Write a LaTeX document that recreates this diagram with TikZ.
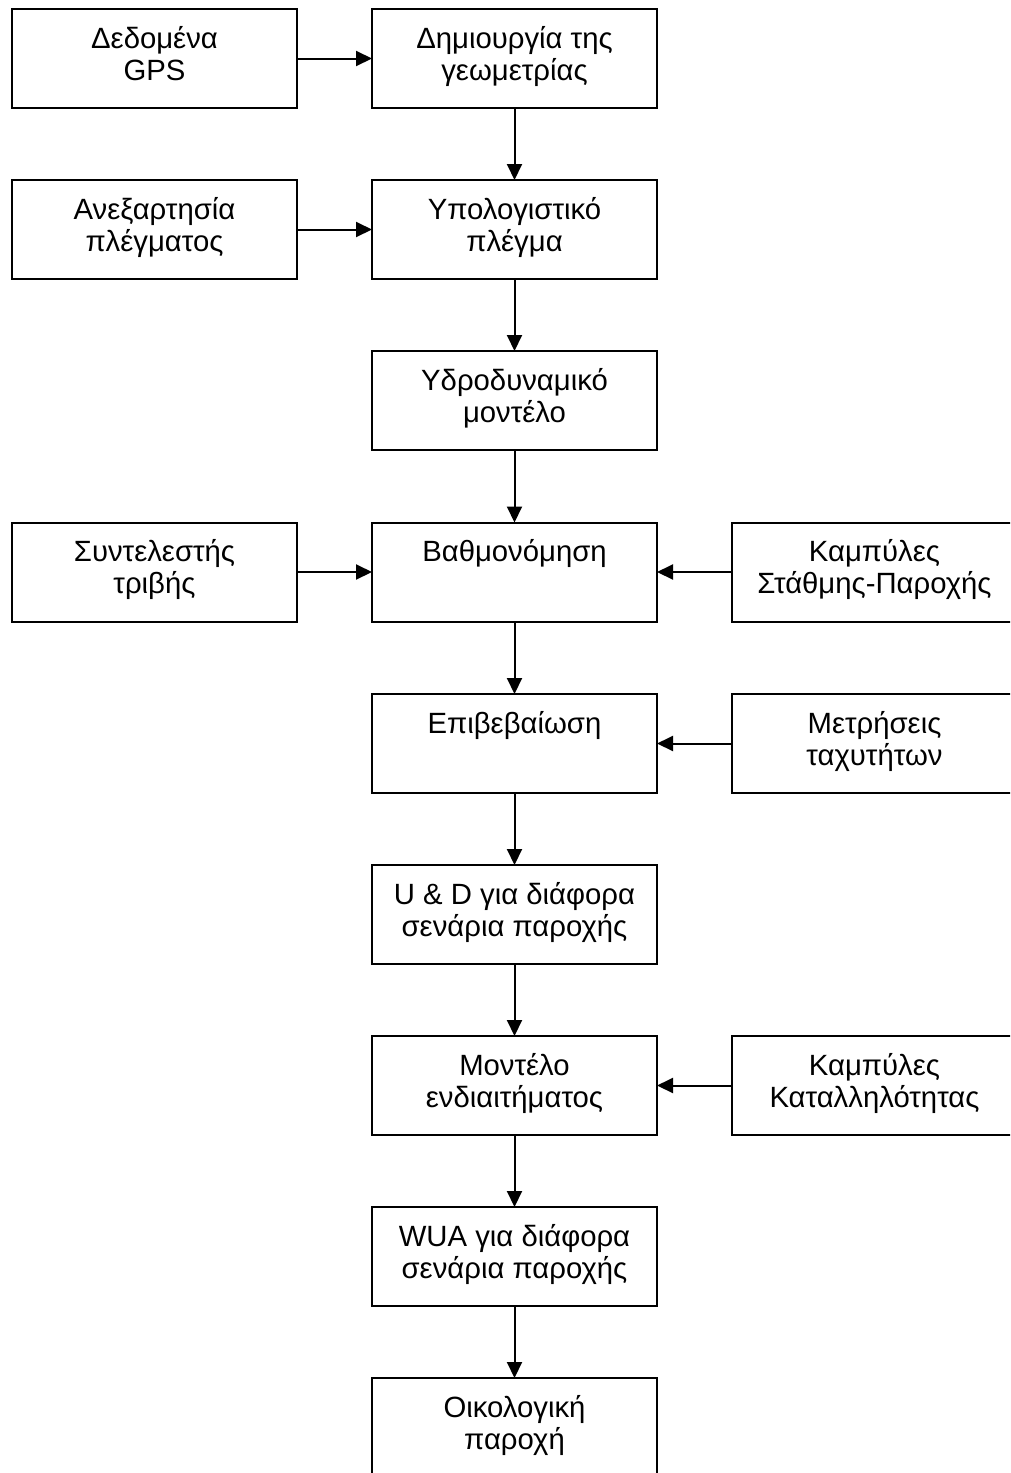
\documentclass[tikz,border=0pt]{standalone}
\usepackage{fontspec}
\setmainfont{Liberation Sans}
\usetikzlibrary{arrows.meta}
\newcommand{\bxtext}[1]{\parbox[t][99pt][t]{285pt}{\centering\rule{0pt}{39pt}#1\par}}
\begin{document}
\begin{tikzpicture}[x=1pt,y=-1pt,
  flowbox/.style={draw, line width=2pt, inner sep=0pt, outer sep=0pt, anchor=north west,
    font=\fontsize{29.3}{32}\selectfont},
  flowarrow/.style={line width=2pt, -{Triangle[length=16pt,width=15pt]}}]
\useasboundingbox (0,0) rectangle (1010,1473);
\clip (0,0) rectangle (1010,1473);
% rows
\node[flowbox] (gps)   at (12,9)      {\bxtext{Δεδομένα\\GPS}};
\node[flowbox] (geom)  at (372,9)     {\bxtext{Δημιουργία της\\γεωμετρίας}};
\node[flowbox] (indep) at (12,180)    {\bxtext{Ανεξαρτησία\\πλέγματος}};
\node[flowbox] (mesh)  at (372,180)   {\bxtext{Υπολογιστικό\\πλέγμα}};
\node[flowbox] (hydro) at (372,351)   {\bxtext{Υδροδυναμικό\\μοντέλο}};
\node[flowbox] (fric)  at (12,522.5)  {\bxtext{Συντελεστής\\τριβής}};
\node[flowbox] (calib) at (372,522.5) {\bxtext{Βαθμονόμηση}};
\node[flowbox] (rating) at (732,522.5) {\bxtext{Καμπύλες\\Στάθμης-Παροχής}};
\node[flowbox] (valid) at (372,694)   {\bxtext{Επιβεβαίωση}};
\node[flowbox] (vel)   at (732,694)   {\bxtext{Μετρήσεις\\ταχυτήτων}};
\node[flowbox] (ud)    at (372,865)   {\bxtext{U \& D για διάφορα\\σενάρια παροχής}};
\node[flowbox] (habit) at (372,1036)  {\bxtext{Μοντέλο\\ενδιαιτήματος}};
\node[flowbox] (suit)  at (732,1036)  {\bxtext{Καμπύλες\\Καταλληλότητας}};
\node[flowbox] (wua)   at (372,1207)  {\bxtext{WUA για διάφορα\\σενάρια παροχής}};
\node[flowbox] (eco)   at (372,1378)  {\bxtext{Οικολογική\\παροχή}};
% connectors
\draw[flowarrow] (gps) -- (geom);
\draw[flowarrow] (indep) -- (mesh);
\draw[flowarrow] (fric) -- (calib);
\draw[flowarrow] (rating) -- (calib);
\draw[flowarrow] (vel) -- (valid);
\draw[flowarrow] (suit) -- (habit);
\draw[flowarrow] (geom) -- (mesh);
\draw[flowarrow] (mesh) -- (hydro);
\draw[flowarrow] (hydro) -- (calib);
\draw[flowarrow] (calib) -- (valid);
\draw[flowarrow] (valid) -- (ud);
\draw[flowarrow] (ud) -- (habit);
\draw[flowarrow] (habit) -- (wua);
\draw[flowarrow] (wua) -- (eco);
\end{tikzpicture}
\end{document}
